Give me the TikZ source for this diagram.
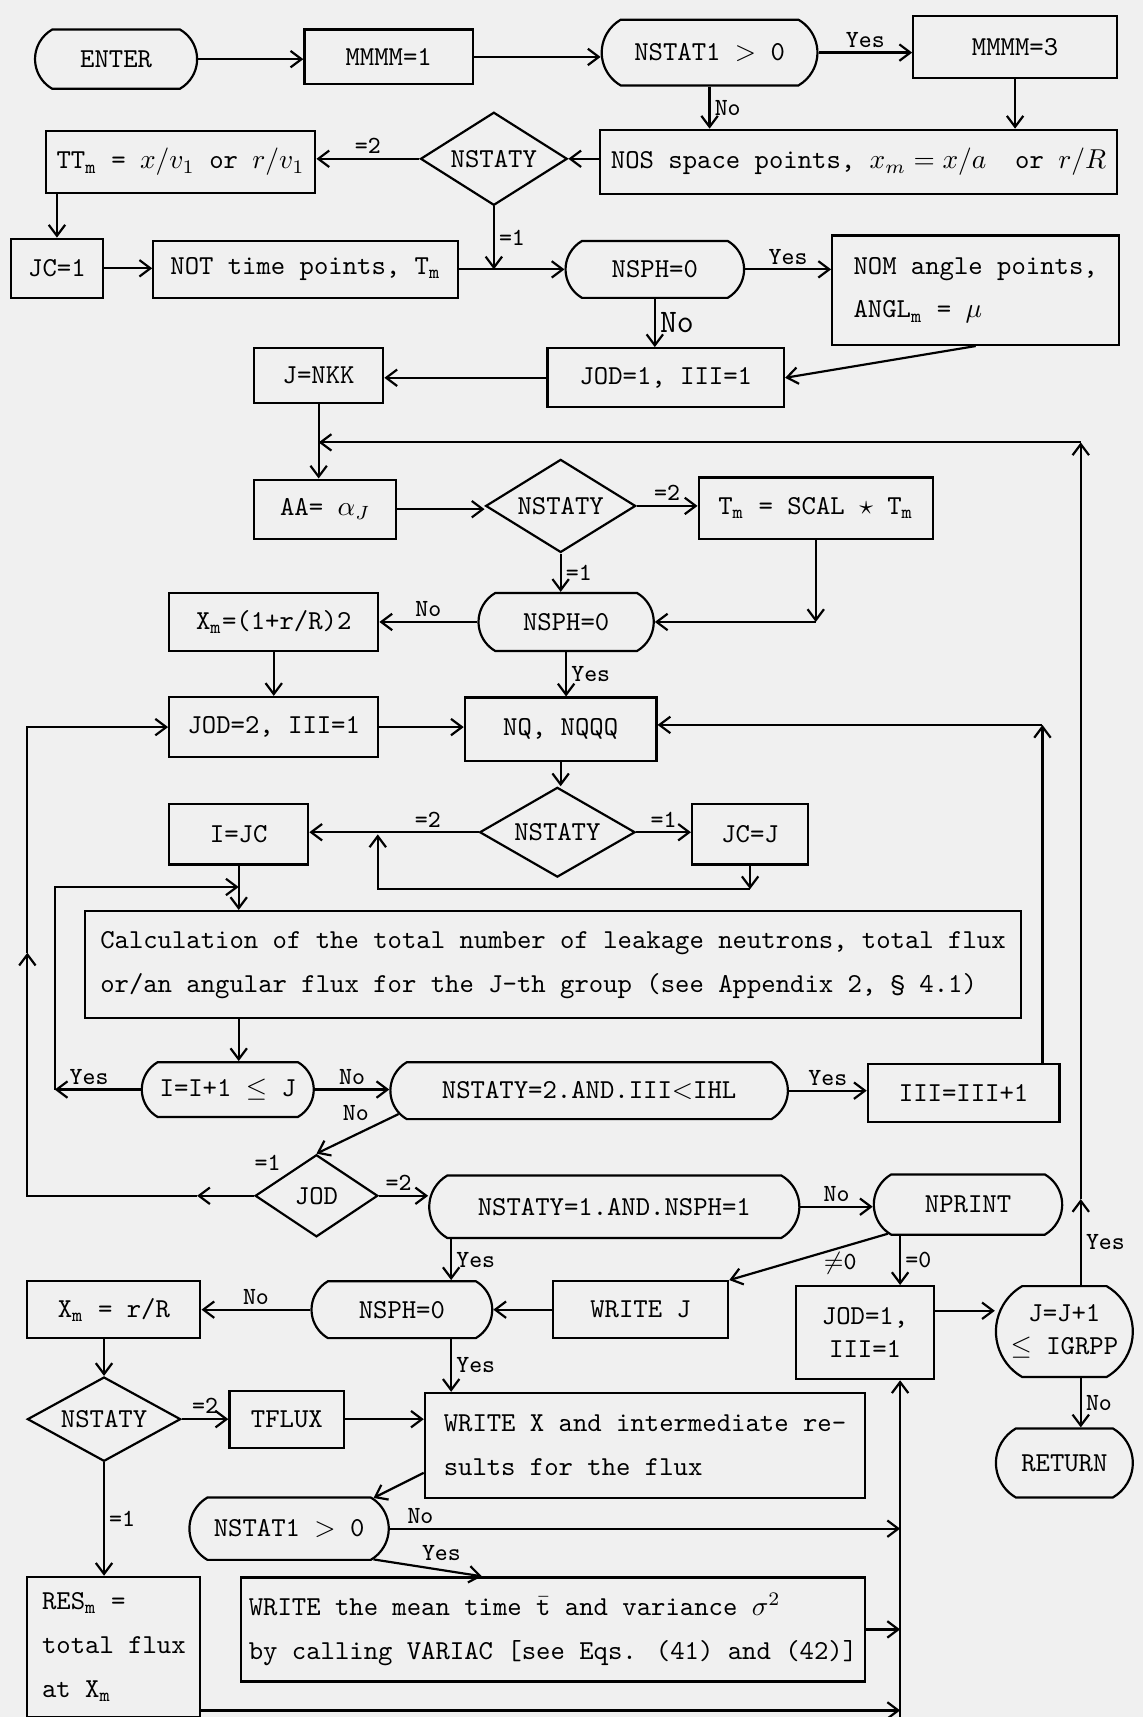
\documentclass[tikz,border=0pt]{standalone}
\usepackage{amsmath}
\usepackage{amssymb}
\usetikzlibrary{shapes.geometric, shapes.misc, arrows.meta, calc}
\definecolor{paper}{RGB}{240,240,240}
\newcommand{\msub}{\ensuremath{_{\mathtt{m}}}}

\begin{document}
\begin{tikzpicture}[x=0.4pt, y=-0.4pt,
  wh/.style 2 args={minimum width=#1*0.4pt, minimum height=#2*0.4pt},
  box/.style={rectangle, draw=black, thick, align=center, font=\ttfamily, inner sep=2pt},
  term/.style={rounded rectangle, rounded rectangle arc length=120, draw=black, thick, align=center, font=\ttfamily, inner sep=2pt},
  decide/.style={diamond, draw=black, thick, aspect=1.6, inner sep=1pt, font=\ttfamily},
  arr/.style={-{Straight Barb[length=4pt,width=6pt]}, thick},
  lab/.style={font=\ttfamily\small, inner sep=1.5pt}
]
\fill[paper] (0,0) rectangle (1044,1568);
\useasboundingbox (0,0) rectangle (1044,1568);

% nodes, top to bottom
\node[term, wh={158}{54}] (enter) at (106,54) {ENTER};
\node[box, wh={154}{50}] (mone) at (355,52) {MMMM=1};
\node[term, wh={207}{60}] (nstat) at (648,48) {NSTAT1 $>$ 0};
\node[box, wh={186}{57}] (mthree) at (927,43) {MMMM=3};
\node[box, wh={246}{57}] (ttm) at (165,148) {TT\msub{} = $x/v_1$ or $r/v_1$};
\node[decide, wh={134}{85}] (nstaty) at (451,145) {NSTATY};
\node[box, wh={472}{59}] (nos) at (784,148) {NOS space points, $x_m = x/a$\ \ or $r/R$};
\node[box, wh={84}{54}] (jcone) at (52,245) {JC=1};
\node[box, wh={278}{52}] (notp) at (279,246) {NOT time points, T\msub};
\node[term, wh={173}{52}] (nsph) at (598,246) {NSPH=0};
\node[box, wh={262}{100}, align=left] (nom) at (891,265) {NOM angle points,\\[4pt]ANGL\msub{} = $\mu$};
\node[box, wh={118}{50}] (jnkk) at (291,343) {J=NKK};
\node[box, wh={216}{54}] (jodone) at (608,345) {JOD=1, III=1};
\node[box, wh={130}{54}] (aa) at (297,465) {AA= $\alpha_J$};
\node[decide, wh={137}{85}] (nstatyb) at (512,462) {NSTATY};
\node[box, wh={214}{56}] (tscal) at (745,464) {T\msub{} = SCAL $\star$ T\msub};
\node[box, wh={191}{53}] (xmone) at (250,568) {X\msub=(1+r/R)2};
\node[term, wh={170}{53}] (nsphb) at (517,568) {NSPH=0};
\node[box, wh={191}{55}] (jodtwo) at (250,664) {JOD=2, III=1};
\node[box, wh={175}{58}] (nq) at (512,666) {NQ, NQQQ};
\node[box, wh={127}{55}] (ijc) at (218,762) {I=JC};
\node[decide, wh={142}{82}] (nstatyc) at (509,760) {NSTATY};
\node[box, wh={106}{55}] (jcj) at (685,762) {JC=J};
\node[box, wh={855}{98}, align=left] (calc) at (505,881) {Calculation of the total number of leakage neutrons, total flux\\[4pt]or/an angular flux for the J-th group (see Appendix 2, \S~4.1)};
\node[term, wh={167}{50}] (incr) at (208,995) {I=I+1 $\leq$ J};
\node[term, wh={373}{52}] (ihl) at (538,996) {NSTATY=2.AND.III$<$IHL};
\node[box, wh={175}{53}] (iiinc) at (880,998) {III=III+1};
\node[decide, wh={112}{75}] (jod) at (289,1092) {JOD};
\node[term, wh={348}{57}] (nsone) at (561,1102) {NSTATY=1.AND.NSPH=1};
\node[term, wh={182}{55}] (nprint) at (884,1100) {NPRINT};
\node[box, wh={158}{52}] (xmtwo) at (104,1196) {X\msub{} = r/R};
\node[term, wh={175}{52}] (nsphc) at (367,1196) {NSPH=0};
\node[box, wh={160}{52}] (writej) at (585,1196) {WRITE J};
\node[box, wh={126}{85}] (jodthree) at (790,1217) {JOD=1,\\III=1};
\node[term, wh={135}{83}] (jinc) at (972,1216) {J=J+1\\$\leq$ IGRPP};
\node[term, wh={135}{63}] (ret) at (972,1336) {RETURN};
\node[decide, wh={140}{77}] (nstatyd) at (95,1296) {NSTATY};
\node[box, wh={105}{52}] (tflux) at (262,1296) {TFLUX};
\node[box, wh={402}{96}, align=left] (writex) at (589,1320) {WRITE X and intermediate re-\\[4pt]sults for the flux};
\node[term, wh={192}{57}] (nstatb) at (264,1396) {NSTAT1 $>$ 0};
\node[box, wh={158}{128}, align=left] (res) at (104,1504) {RES\msub{} =\\[4pt]total flux\\[4pt]at X\msub};
\node[box, wh={570}{95}, align=left] (writem) at (505,1488) {WRITE the mean time $\bar{\mathtt{t}}$ and variance $\sigma^2$\\[4pt]by calling VARIAC [see Eqs. (41) and (42)]};

% bends of the return lines
\coordinate (vr) at (822,0);
\coordinate (vj) at (987,0);
\coordinate (vy) at (412,0);
\coordinate (rtop) at (987,404);
\coordinate (rmid) at (987,1095);
\coordinate (jcl) at (345,812);
\coordinate (yl) at (50,810);
\coordinate (qr) at (952,662);
\coordinate (lm) at (180,1092);
\coordinate (ll) at (25,870);
\coordinate (rb) at (822,1562);
\coordinate (bl) at (822,1568);

% connectors
\draw[arr] (enter.east) -- (enter.east -| mone.west);
\draw[arr] (mone.east) -- (mone.east -| nstat.west);
\draw[arr] (nstat.east) -- node[lab, above]{Yes} (nstat.east -| mthree.west);
\draw[arr] (nstat.south) -- node[lab, right]{No} (nstat.south |- nos.north);
\draw[arr] (mthree.south) -- (mthree.south |- nos.north);
\draw[arr] (nos.west |- nstaty.east) -- (nstaty.east);
\draw[arr] (nstaty.west) -- node[lab, above]{=2} (nstaty.west -| ttm.east);
\draw[arr] (jcone.north |- ttm.south) -- (jcone.north);
\draw[arr] (jcone.east) -- (jcone.east -| notp.west);
\draw[arr] (notp.east) -- (notp.east -| nsph.west);
\draw[arr] (nstaty.south) -- node[lab, right]{=1} (nstaty.south |- notp.east);
\draw[arr] (nsph.east) -- node[lab, above]{Yes} (nsph.east -| nom.west);
\draw[arr] (nsph.south) -- node[lab, right, font=\ttfamily\large]{No} (nsph.south |- jodone.north);
\draw[arr] (nom.south) -- (jodone.east);
\draw[arr] (jodone.west) -- (jodone.west -| jnkk.east);
\draw[arr] (jnkk.south) -- (jnkk.south |- aa.north);
\draw[arr] (vj |- jinc.north) -- node[lab, right]{Yes} (rmid);
\draw[arr] (rmid) -- (rtop);
\draw[arr] (rtop) -- (rtop -| jnkk.south);
\draw[arr] (aa.east) -- (aa.east -| nstatyb.west);
\draw[arr] (nstatyb.east) -- node[lab, above]{=2} (nstatyb.east -| tscal.west);
\draw[arr] (nstatyb.south) -- node[lab, right]{=1} (nstatyb.south |- nsphb.north);
\draw[arr] (tscal.south) -- (tscal.south |- nsphb.east);
\draw[arr] (tscal.south |- nsphb.east) -- (nsphb.east);
\draw[arr] (nsphb.west) -- node[lab, above]{No} (nsphb.west -| xmone.east);
\draw[arr] (nsphb.south) -- node[lab, right]{Yes} (nsphb.south |- nq.north);
\draw[arr] (xmone.south) -- (xmone.south |- jodtwo.north);
\draw[arr] (jodtwo.east) -- (jodtwo.east -| nq.west);
\draw[arr] (nq.south) -- (nq.south |- nstatyc.north);
\draw[arr] (nstatyc.west) -- node[lab, above, pos=0.3]{=2} (nstatyc.west -| ijc.east);
\draw[arr] (nstatyc.east) -- node[lab, above]{=1} (nstatyc.east -| jcj.west);
\draw[arr] (jcj.south) -- (jcj.south |- jcl);
\draw[arr] (jcj.south |- jcl) -- (jcl) -- (jcl |- ijc.east);
\draw[arr] (ijc.south) -- (ijc.south |- calc.north);
\draw[arr] (incr.west) -- node[lab, above, pos=0.6]{Yes} (yl |- incr.west);
\draw[arr] (yl |- incr.west) -- (yl) -- (yl -| ijc.south);
\draw[arr] (ijc.south |- calc.south) -- (ijc.south |- incr.north);
\draw[arr] (incr.east) -- node[lab, above]{No} (incr.east -| ihl.west);
\draw[arr] (ihl.east) -- node[lab, above]{Yes} (ihl.east -| iiinc.west);
\draw[arr] (ihl.187) -- node[lab, above left, pos=0.3]{No} (jod.north);
\draw[arr] (qr |- iiinc.north) -- (qr);
\draw[arr] (qr) -- (qr -| nq.east);
\draw[arr] (jod.east) -- node[lab, above, pos=0.4]{=2} (jod.east -| nsone.west);
\draw[arr] (jod.west) -- (lm);
\draw[arr] (lm) -- (lm -| ll) -- (ll);
\draw[arr] (ll) -- (ll |- jodtwo.west) -- (jodtwo.west);
\node[lab, anchor=south east] at (jod.north west) {=1};
\draw[arr] (nsone.east) -- node[lab, above]{No} (nsone.east -| nprint.west);
\draw[arr] (vy |- nsone.south) -- node[lab, right]{Yes} (vy |- nsphc.north);
\draw[arr] (nprint.200) -- node[lab, below, pos=0.3]{$\neq$0} (writej.north east);
\draw[arr] (vr |- nprint.south) -- node[lab, right]{=0} (vr |- jodthree.north);
\draw[arr] (writej.west) -- (writej.west -| nsphc.east);
\draw[arr] (nsphc.west) -- node[lab, above]{No} (nsphc.west -| xmtwo.east);
\draw[arr] (vy |- nsphc.south) -- node[lab, right]{Yes} (vy |- writex.north);
\draw[arr] ([yshift=8pt]jodthree.east) -- ([yshift=8pt]jodthree.east -| jinc.west);
\draw[arr] (vj |- jinc.south) -- node[lab, right]{No} (vj |- ret.north);
\draw[arr] (nstatyd.north |- xmtwo.south) -- (nstatyd.north);
\draw[arr] (nstatyd.east) -- node[lab, above]{=2} (nstatyd.east -| tflux.west);
\draw[arr] (tflux.east) -- (tflux.east -| writex.west);
\draw[arr] (nstatyd.south) -- node[lab, right]{=1} (nstatyd.south |- res.north);
\draw[arr] ([yshift=-10pt]writex.west) -- (nstatb.20);
\draw[arr] (nstatb.east) -- node[lab, above, pos=0.06]{No} (nstatb.east -| vr);
\draw[arr] (nstatb.-20) -- node[lab, above right, pos=0.4]{Yes} ([xshift=-26pt]writem.north);
\draw[arr] (writem.east) -- (writem.east -| vr);
\draw[arr] (res.east |- rb) -- (rb);
\draw[arr] (bl) -- (vr |- jodthree.south);
\end{tikzpicture}
\end{document}
